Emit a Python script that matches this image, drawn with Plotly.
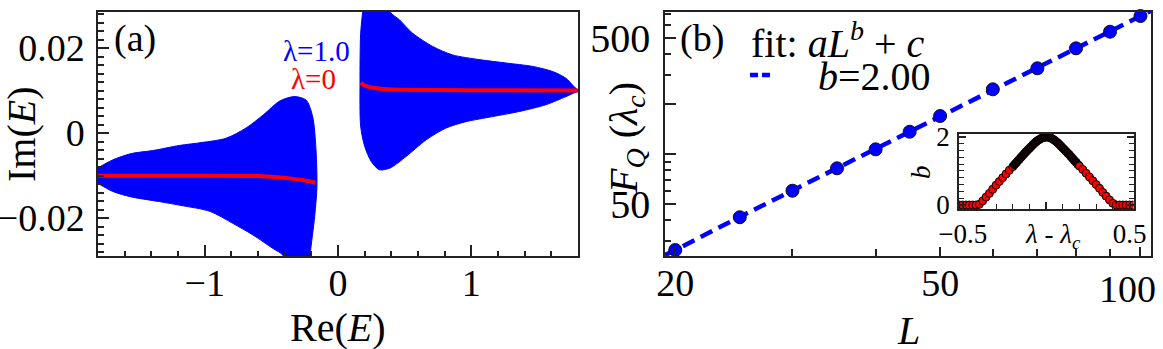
import plotly.graph_objects as go

W, H = 1163, 349
FONT = "Liberation Serif, Times New Roman, serif"

# ---- panel (a): envelopes of the lambda=1.0 spectrum, lambda=0 lines ----
left_up_re = [-1.90, -1.78, -1.69, -1.55, -1.39, -1.19, -1.02, -0.84, -0.69, -0.56, -0.44, -0.33, -0.24, -0.19, -0.165, -0.158, -0.175, -0.21, -0.23]
left_up_im = [-0.0100, -0.0078, -0.0063, -0.0048, -0.0041, -0.0029, -0.0022, -0.0012, 0.0012, 0.0043, 0.0075, 0.0086, 0.0078, 0.0039, -0.0039, -0.0126, -0.0196, -0.0290, -0.0400]
left_lo_re = [-1.90, -1.78, -1.69, -1.55, -1.34, -1.16, -0.96, -0.79, -0.64, -0.49, -0.41, -0.38]
left_lo_im = [-0.0100, -0.0122, -0.0137, -0.0150, -0.0161, -0.0171, -0.0184, -0.0212, -0.0239, -0.0271, -0.0289, -0.0400]

right_up_re = [0.165, 0.17, 0.19, 0.22, 0.36, 0.39, 0.46, 0.56, 0.71, 0.86, 1.06, 1.26, 1.46, 1.61, 1.71, 1.80, 1.90]
right_up_im = [0.0118, 0.0235, 0.0300, 0.0400, 0.0400, 0.0286, 0.0267, 0.0235, 0.0204, 0.0184, 0.0173, 0.0165, 0.0157, 0.0145, 0.0129, 0.0102, 0.0100]
right_lo_re = [0.165, 0.17, 0.20, 0.25, 0.31, 0.39, 0.51, 0.66, 0.81, 0.96, 1.16, 1.36, 1.56, 1.71, 1.80, 1.90]
right_lo_im = [0.0118, 0.0016, -0.0031, -0.0067, -0.0086, -0.0082, -0.0055, -0.0016, 0.0012, 0.0027, 0.0039, 0.0051, 0.0067, 0.0086, 0.0098, 0.0100]

red_left_re = [-1.85, -1.0, -0.6, -0.45, -0.35, -0.27, -0.2, -0.17]
red_left_im = [-0.0100, -0.0100, -0.0101, -0.0104, -0.0107, -0.0110, -0.0114, -0.0117]
red_right_re = [0.17, 0.2, 0.26, 0.35, 0.5, 1.0, 1.85]
red_right_im = [0.0118, 0.0112, 0.0107, 0.0104, 0.0102, 0.0101, 0.0100]

# ---- panel (b): F_Q at lambda_c vs L ----
L = [20, 25, 30, 35, 40, 45, 50, 60, 70, 80, 90, 100]
FQ = [26.4, 41.6, 60.1, 82.0, 106.7, 136.2, 169.4, 245.3, 328.4, 433.2, 545.4, 678.2]
fit_L = [19.3, 20, 25, 30, 40, 50, 60, 70, 80, 90, 100, 104]
fit_FQ = [24.6, 26.4, 41.8, 60.4, 107.5, 169.0, 243.6, 332.0, 434.0, 549.0, 678.0, 733.0]

# inset: exponent b vs lambda - lambda_c
lam = [-0.52, -0.50, -0.48, -0.46, -0.44, -0.42, -0.40, -0.38, -0.36, -0.34, -0.32, -0.30, -0.28, -0.26,
       -0.24, -0.22, -0.20, -0.19, -0.18, -0.17, -0.16, -0.15, -0.14, -0.13, -0.12, -0.11, -0.10, -0.09,
       -0.08, -0.07, -0.06, -0.05, -0.04, -0.03, -0.02, -0.01, 0.00, 0.01, 0.02, 0.03, 0.04, 0.05, 0.06,
       0.07, 0.08, 0.09, 0.10, 0.11, 0.12, 0.13, 0.14, 0.15, 0.16, 0.17, 0.18, 0.19, 0.20, 0.22, 0.24,
       0.26, 0.28, 0.30, 0.32, 0.34, 0.36, 0.38, 0.40, 0.42, 0.44, 0.46, 0.48, 0.50, 0.52]
b_exp = [0.0, 0.0, 0.0, 0.0, 0.0, 0.0, 0.02, 0.12, 0.23, 0.34, 0.46, 0.58, 0.69, 0.80,
         0.91, 1.02, 1.12, 1.18, 1.23, 1.29, 1.34, 1.40, 1.45, 1.51, 1.56, 1.61, 1.66, 1.71,
         1.76, 1.81, 1.85, 1.89, 1.92, 1.95, 1.97, 1.98, 1.99, 1.99, 1.98, 1.96, 1.93, 1.90, 1.86,
         1.82, 1.77, 1.72, 1.67, 1.62, 1.57, 1.52, 1.47, 1.41, 1.36, 1.30, 1.25, 1.19, 1.14, 1.04, 0.93,
         0.82, 0.71, 0.60, 0.49, 0.37, 0.26, 0.15, 0.05, 0.0, 0.0, 0.0, 0.0, 0.0, 0.0]


def px(x):
    return x / W


def py(y):
    return 1 - y / H


fig = go.Figure()

for up_x, up_y, lo_x, lo_y in [(left_up_re, left_up_im, left_lo_re, left_lo_im),
                               (right_up_re, right_up_im, right_lo_re, right_lo_im)]:
    fig.add_trace(go.Scatter(x=up_x + lo_x[::-1], y=up_y + lo_y[::-1],
                             fill="toself", fillcolor="#0000ff", mode="lines",
                             line=dict(color="#0000ff", width=1, shape="spline", smoothing=0.8),
                             xaxis="x", yaxis="y"))
for xs, ys in [(red_left_re, red_left_im), (red_right_re, red_right_im)]:
    fig.add_trace(go.Scatter(x=xs, y=ys, mode="lines",
                             line=dict(color="#ff0000", width=4, shape="spline", smoothing=0.6),
                             xaxis="x", yaxis="y"))

fig.add_trace(go.Scatter(x=fit_L, y=fit_FQ, mode="lines",
                         line=dict(color="#0000ff", width=4.5, dash="13px,7px"),
                         xaxis="x2", yaxis="y2"))
fig.add_trace(go.Scatter(x=L, y=FQ, mode="markers", cliponaxis=False,
                         marker=dict(size=13, color="#0000ff", line=dict(color="#111", width=1)),
                         xaxis="x2", yaxis="y2"))

# points close to lambda_c pile up and read as black in the original
inset_fill = ["#1a0000" if abs(v) < 0.2 else "#ff0000" for v in lam]
fig.add_trace(go.Scatter(x=lam, y=b_exp, mode="markers", cliponaxis=True,
                         marker=dict(size=8, color=inset_fill, line=dict(color="#000", width=1)),
                         xaxis="x3", yaxis="y3"))

axis_common = dict(showline=True, linecolor="#222", linewidth=1.5, mirror=True, showgrid=False,
                   zeroline=False, automargin=False, ticks="inside", tickcolor="#222", tickwidth=1.5,
                   tickfont=dict(family=FONT, size=38, color="black"))
ydom = [py(256), py(12)]

fig.update_layout(
    template="none",
    font=dict(family=FONT, color="black"),
    width=W, height=H, margin=dict(l=0, r=0, t=0, b=0, autoexpand=False),
    paper_bgcolor="white", plot_bgcolor="white", showlegend=False,
    xaxis=dict(axis_common, domain=[px(98), px(578)], range=[-1.8, 1.8], anchor="y",
               tickvals=[-1, 0, 1], ticktext=["\u22121", "0", "1"], ticklen=11, ticklabelstandoff=-7,
               minor=dict(tickvals=[-1.6, -1.4, -1.2, -0.8, -0.6, -0.4, -0.2, 0.2, 0.4, 0.6, 0.8, 1.2, 1.4, 1.6],
                          ticks="inside", ticklen=5, tickcolor="#222", tickwidth=1.5)),
    yaxis=dict(axis_common, domain=ydom, range=[-0.0289, 0.0285], anchor="x",
               tickvals=[-0.02, 0, 0.02], ticktext=["\u22120.02", "0", "0.02"], ticklen=11,
               ticklabelstandoff=4,
               minor=dict(dtick=0.002, tick0=0, ticks="inside", ticklen=6, tickcolor="#222", tickwidth=1.5)),
    xaxis2=dict(axis_common, type="log", domain=[px(665), px(1151)], range=[1.2856, 2.0158], anchor="y2",
                tickvals=[20, 50, 100], ticktext=["20", "50", ""], ticklen=9, ticklabelstandoff=-7,
                minor=dict(tickvals=[30, 40, 60, 70, 80, 90], ticks="inside", ticklen=7,
                           tickcolor="#222", tickwidth=1.5)),
    yaxis2=dict(axis_common, type="log", domain=ydom, range=[1.3856, 2.8555], anchor="x2",
                tickvals=[50, 100, 200, 500], ticktext=["50", "", "", "500"], ticklen=11,
                ticklabelstandoff=5, tickfont=dict(family=FONT, size=40, color="black"),
                minor=dict(tickvals=[30, 40, 60, 70, 80, 90, 300, 400, 600, 700], ticks="inside",
                           ticklen=6, tickcolor="#222", tickwidth=1.5)),
    xaxis3=dict(axis_common, domain=[px(959), px(1133.5)], range=[-0.522, 0.524], anchor="y3",
                tickvals=[-0.5, 0, 0.5], ticktext=["\u22120.5", "", "0.5"], ticklen=7,
                tickfont=dict(family=FONT, size=27, color="black"), ticklabelstandoff=0,
                minor=dict(dtick=0.1, tick0=0, ticks="inside", ticklen=5, tickcolor="#222", tickwidth=1)),
    yaxis3=dict(axis_common, domain=[py(209), py(134)], range=[-0.117, 2.08], anchor="x3",
                mirror="ticks", tickvals=[0, 2], ticktext=["0", "2"], ticklen=7,
                tickfont=dict(family=FONT, size=27, color="black"), ticklabelstandoff=2,
                minor=dict(dtick=0.2, tick0=0, ticks="inside", ticklen=5, tickcolor="#222", tickwidth=1)),
)


def label(text, x, y, size=40, color="black", angle=0, xanchor="center", yanchor="middle"):
    fig.add_annotation(text=text, x=px(x), y=py(y), xref="paper", yref="paper", showarrow=False,
                       textangle=angle, xanchor=xanchor, yanchor=yanchor,
                       font=dict(family=FONT, size=size, color=color))


label("(a)", 112, 38, size=38, xanchor="left")
label("\u03bb=1.0", 316, 51, size=29, color="#0000ff")
label("\u03bb=0", 313, 79, size=29, color="#ff0000")
label("Im(<i>E</i>)", 21, 134, angle=-90)
label("Re(<i>E</i>)", 338, 327)

label("(b)", 678, 38, size=38, xanchor="left")
label("fit: <i>aL</i><sup><i>b</i></sup> + <i>c</i>", 749, 41, xanchor="left")
label("<i>b</i>=2.00", 816, 76, xanchor="left")
label("<i>F<sub>Q</sub></i> (<i>\u03bb<sub>c</sub></i>)", 626, 138, angle=-90)
label("<i>L</i>", 908, 330)
label("100", 1127, 289, size=38)

label("<i>b</i>", 921, 172, size=27, angle=-90)
label("<i>\u03bb</i> - <i>\u03bb<sub>c</sub></i>", 1053, 236, size=27)

fig.add_shape(type="line", xref="paper", yref="paper", x0=px(750), x1=px(771), y0=py(75), y1=py(75),
              line=dict(color="#0000ff", width=4.5, dash="8px,4px"))

# the page's default body margin would push the figure 8px right and down
fig.write_html("out.html", config={"displayModeBar": False},
               post_script="document.body.style.margin = '0';")
